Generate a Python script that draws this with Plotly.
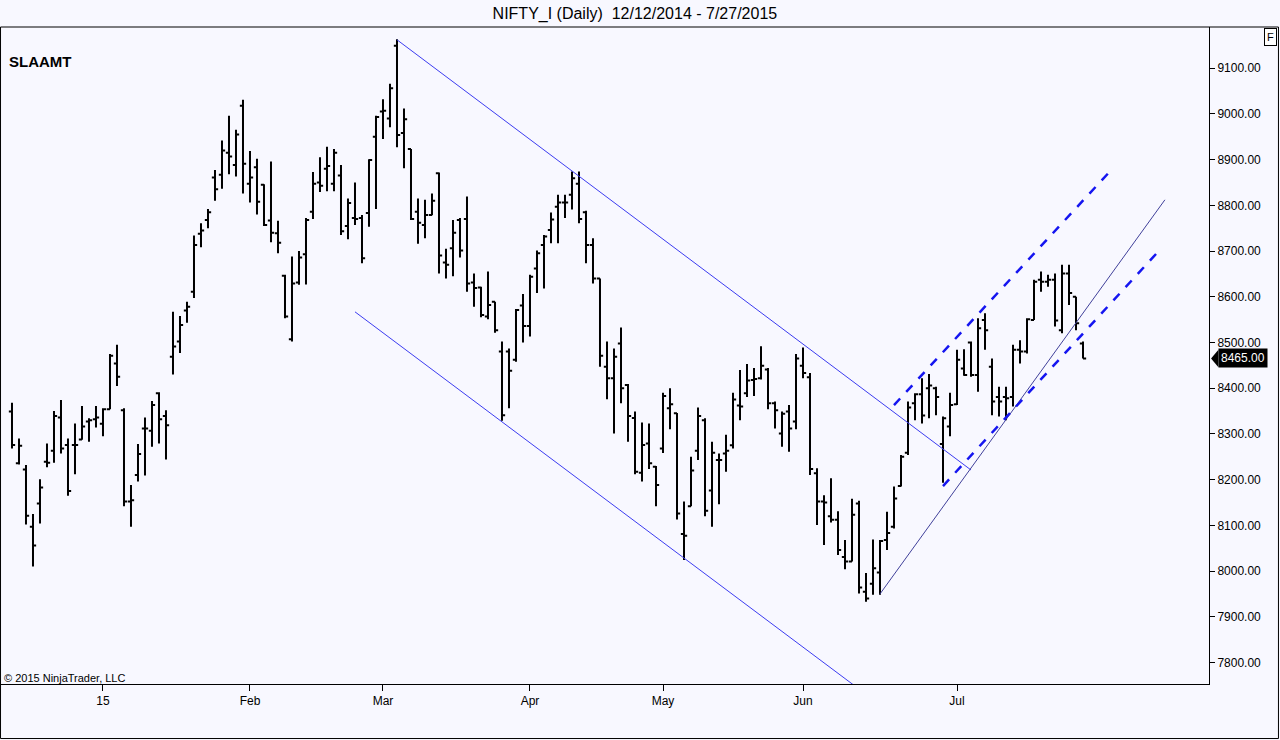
import pandas as pd
import plotly.graph_objects as go

# NSE trading days between the two dates (exchange holidays dropped)
holidays = ["2014-12-25", "2015-01-26", "2015-02-17", "2015-03-06",
            "2015-04-02", "2015-04-03", "2015-04-14", "2015-05-01"]
days = pd.bdate_range("2014-12-12", "2015-07-27")
days = days[~days.isin(pd.to_datetime(holidays))]

opens = [8349, 8236, 8222, 8097, 8148, 8239, 8263, 8336, 8276, 8276,
         8288, 8327, 8332, 8322, 8354, 8454, 8352, 8152, 8210, 8312,
         8307, 8389, 8339, 8469, 8502, 8570, 8611, 8738, 8768, 8861,
         8867, 8915, 8888, 9018, 8847, 8883, 8845, 8767, 8739, 8646,
         8507, 8631, 8693, 8786, 8850, 8880, 8847, 8865, 8755, 8772,
         8772, 8783, 8950, 9005, 8990, 9149, 8958, 8923, 8786, 8757,
         8779, 8870, 8675, 8706, 8768, 8770, 8631, 8620, 8557, 8589,
         8480, 8480, 8462, 8581, 8536, 8662, 8713, 8746, 8797, 8806,
         8823, 8847, 8785, 8713, 8640, 8447, 8422, 8498, 8407, 8335,
         8215, 8279, 8228, 8268, 8356, 8345, 8081, 8142, 8263, 8330,
         8176, 8243, 8257, 8275, 8362, 8389, 8418, 8422, 8441, 8367,
         8301, 8349, 8327, 8449, 8424, 8214, 8152, 8120, 8112, 8031,
         8021, 8148, 7955, 7972, 7997, 8068, 8097, 8186, 8259, 8367,
         8387, 8400, 8400, 8278, 8316, 8365, 8443, 8500, 8429, 8549,
         8447, 8381, 8381, 8381, 8484, 8480, 8549, 8637, 8633, 8637,
         8527, 8651, 8600, 8498]
highs = [8368, 8290, 8232, 8125, 8201, 8279, 8350, 8374, 8290, 8323,
         8361, 8334, 8361, 8356, 8475, 8495, 8356, 8188, 8278, 8336,
         8372, 8391, 8352, 8567, 8558, 8589, 8734, 8761, 8792, 8877,
         8942, 8996, 8965, 9031, 8919, 8902, 8846, 8896, 8766, 8648,
         8688, 8700, 8772, 8873, 8905, 8928, 8923, 8888, 8815, 8850,
         8779, 8901, 8996, 9032, 9066, 9163, 9012, 8923, 8815, 8812,
         8826, 8872, 8705, 8768, 8772, 8819, 8651, 8622, 8655, 8589,
         8502, 8487, 8573, 8606, 8648, 8701, 8735, 8784, 8823, 8823,
         8874, 8874, 8788, 8728, 8640, 8502, 8487, 8533, 8409, 8349,
         8325, 8323, 8230, 8390, 8400, 8346, 8152, 8250, 8358, 8334,
         8283, 8257, 8298, 8390, 8440, 8453, 8444, 8492, 8444, 8371,
         8349, 8363, 8475, 8489, 8433, 8225, 8166, 8203, 8131, 8068,
         8158, 8154, 7996, 8069, 8068, 8130, 8185, 8254, 8371, 8389,
         8422, 8431, 8403, 8338, 8390, 8484, 8485, 8502, 8553, 8564,
         8465, 8403, 8403, 8495, 8505, 8553, 8637, 8655, 8648, 8651,
         8670, 8670, 8600, 8502]
lows = [8268, 8233, 8102, 8010, 8104, 8227, 8237, 8257, 8165, 8212,
        8287, 8283, 8314, 8295, 8354, 8405, 8142, 8097, 8196, 8209,
        8272, 8279, 8244, 8430, 8477, 8543, 8597, 8708, 8750, 8810,
        8836, 8868, 8863, 8826, 8806, 8780, 8755, 8719, 8695, 8553,
        8502, 8626, 8627, 8770, 8829, 8831, 8831, 8735, 8726, 8757,
        8673, 8753, 8792, 8945, 8971, 8927, 8881, 8768, 8716, 8728,
        8778, 8651, 8640, 8645, 8686, 8611, 8578, 8555, 8551, 8521,
        8329, 8356, 8458, 8500, 8513, 8608, 8618, 8717, 8717, 8772,
        8791, 8761, 8673, 8629, 8447, 8376, 8301, 8367, 8283, 8212,
        8196, 8223, 8142, 8258, 8310, 8113, 8024, 8142, 8243, 8120,
        8097, 8146, 8217, 8268, 8330, 8381, 8383, 8419, 8354, 8312,
        8272, 8261, 8310, 8422, 8210, 8101, 8057, 8106, 8035, 8004,
        8021, 7951, 7933, 7948, 7948, 8046, 8093, 8185, 8254, 8330,
        8323, 8334, 8341, 8193, 8295, 8363, 8427, 8425, 8392, 8484,
        8341, 8338, 8330, 8360, 8454, 8476, 8549, 8611, 8622, 8535,
        8520, 8582, 8527, 8465]
closes = [8276, 8274, 8121, 8056, 8183, 8237, 8339, 8268, 8175, 8276,
          8316, 8330, 8336, 8354, 8471, 8425, 8152, 8155, 8256, 8312,
          8363, 8332, 8319, 8491, 8538, 8578, 8713, 8745, 8785, 8835,
          8920, 8907, 8955, 8891, 8861, 8808, 8757, 8740, 8718, 8557,
          8629, 8686, 8768, 8847, 8843, 8886, 8915, 8743, 8805, 8770,
          8684, 8899, 8993, 9007, 9056, 8954, 8988, 8770, 8762, 8779,
          8810, 8690, 8670, 8740, 8701, 8629, 8619, 8560, 8582, 8527,
          8341, 8438, 8571, 8536, 8644, 8695, 8732, 8769, 8806, 8806,
          8859, 8770, 8713, 8640, 8471, 8422, 8469, 8400, 8339, 8217,
          8276, 8236, 8188, 8383, 8365, 8126, 8077, 8220, 8339, 8132,
          8259, 8243, 8263, 8375, 8360, 8417, 8420, 8449, 8367, 8352,
          8344, 8312, 8465, 8433, 8223, 8152, 8150, 8112, 8046, 8021,
          8123, 7964, 7940, 8006, 8066, 8083, 8159, 8250, 8358, 8387,
          8340, 8406, 8381, 8334, 8363, 8462, 8429, 8429, 8531, 8527,
          8371, 8371, 8378, 8484, 8480, 8551, 8633, 8633, 8637, 8548,
          8651, 8608, 8542, 8465]

month_labels = ["15", "Feb", "Mar", "Apr", "May", "Jun", "Jul"]

# drawn trend lines: (bar index, price) end points
down_upper_x, down_upper_y = [55, 137], [9162, 8221]
down_lower_x, down_lower_y = [49, 121], [8567, 7742]
rise_x, rise_y = [124, 164.7], [7950, 8812]
up_upper_x, up_upper_y = [126, 156.9], [8363, 8875]
up_lower_x, up_lower_y = [133, 163.7], [8186, 8698]

idx = list(range(len(days)))
month_pos = [i for i in range(1, len(days)) if days[i].month != days[i - 1].month]

FONT = "Liberation Sans, Arial, sans-serif"
BG = "#f8f8ff"

fig = go.Figure()
fig.add_trace(go.Ohlc(
    x=idx, open=opens, high=highs, low=lows, close=closes,
    text=[d.strftime("%m/%d/%Y") for d in days], hoverinfo="text+y",
    increasing=dict(line=dict(color="black", width=2)),
    decreasing=dict(line=dict(color="black", width=2)),
    tickwidth=0.45, showlegend=False,
))

for xs, ys, col, w, dash in [
    (down_upper_x, down_upper_y, "#3c3cf0", 1, "solid"),
    (down_lower_x, down_lower_y, "#3c3cf0", 1, "solid"),
    (rise_x, rise_y, "#40409a", 1, "solid"),
    (up_upper_x, up_upper_y, "#1515f0", 2.5, "dash"),
    (up_lower_x, up_lower_y, "#1515f0", 2.5, "dash"),
]:
    fig.add_trace(go.Scatter(x=xs, y=ys, mode="lines", hoverinfo="skip",
                             line=dict(color=col, width=w, dash=dash),
                             showlegend=False))

last = closes[-1]

fig.update_layout(
    width=1280, height=740,
    margin=dict(l=1, r=71, t=27, b=56),
    paper_bgcolor=BG, plot_bgcolor=BG,
    font=dict(family=FONT, size=12, color="black"),
    title=dict(text="NIFTY_I (Daily)  12/12/2014 - 7/27/2015",
               x=0.496, xref="container", xanchor="center",
               y=0.982, yref="container", yanchor="middle",
               font=dict(family=FONT, size=16, color="black")),
    xaxis=dict(range=[-1.57, 171.0], showgrid=False, zeroline=False,
               rangeslider=dict(visible=False),
               tickmode="array", tickvals=month_pos, ticktext=month_labels,
               ticks="outside", ticklen=6, tickcolor="black",
               showline=True, linecolor="black", linewidth=1,
               tickfont=dict(size=12)),
    yaxis=dict(range=[7753, 9190], side="right", showgrid=False,
               zeroline=False, tick0=7800, dtick=100, tickformat=".2f",
               ticks="outside", ticklen=5, tickcolor="black",
               showline=True, linecolor="black", linewidth=1,
               tickfont=dict(size=12)),
    shapes=[
        dict(type="rect", xref="paper", yref="paper",
             x0=-0.0004, x1=1.0575, y0=-0.0830, y1=1.0,
             line=dict(color="black", width=1)),
        dict(type="path", xref="paper", yref="y",
             path=f"M 1.0017,{last} L 1.0078,{last + 19} L 1.0078,{last - 19} Z",
             fillcolor="black", line=dict(width=0)),
    ],
    annotations=[
        dict(text="<b>SLAAMT</b>", xref="paper", yref="paper",
             x=0.005, y=0.948, xanchor="left", yanchor="middle",
             showarrow=False, font=dict(size=15)),
        dict(text="© 2015 NinjaTrader, LLC", xref="paper", yref="paper",
             x=0.001, y=0.009, xanchor="left", yanchor="middle",
             showarrow=False, font=dict(size=11)),
        dict(text=f"{last:.2f}", xref="paper", yref="y",
             x=1.0075, y=last, xanchor="left", yanchor="middle",
             showarrow=False, bgcolor="black", borderpad=2,
             font=dict(size=12, color="white")),
        dict(text="F", xref="paper", yref="paper",
             x=1.0505, y=0.985, xanchor="center", yanchor="middle",
             showarrow=False, bgcolor="white", bordercolor="black",
             borderwidth=1, borderpad=2, font=dict(size=11)),
    ],
)

# the page's default 8px body margin would shift the whole chart
fig.write_html("out.html", config={"displayModeBar": False},
               post_script="document.body.style.margin='0';"
                           "document.body.style.overflow='hidden';")
